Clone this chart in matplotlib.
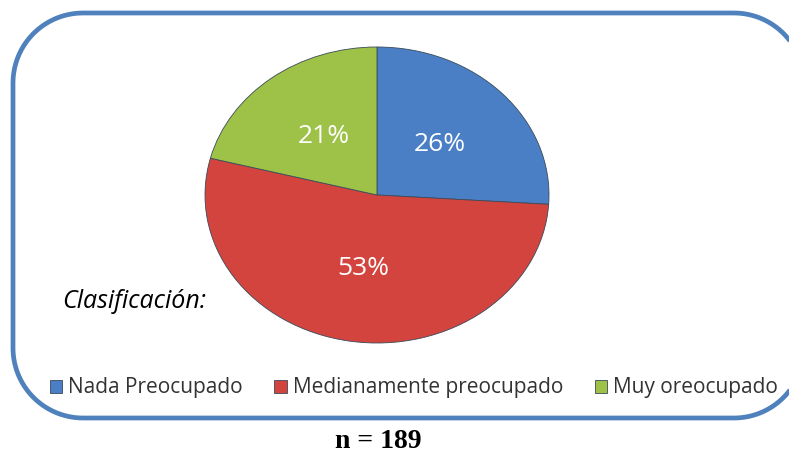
import numpy as np
import matplotlib.pyplot as plt
from matplotlib.path import Path
from matplotlib.patches import PathPatch

# data
categories = ["Nada Preocupado", "Medianamente preocupado", "Muy oreocupado"]
values = [26, 53, 21]
colors = ["#4A7FC6", "#D4443F", "#9DC247"]

fig = plt.figure(figsize=(7.89, 4.55), dpi=100)
fig.patch.set_facecolor("white")

# background layer in pixel coords for the rounded frame
bg = fig.add_axes([0, 0, 1, 1])
bg.set_xlim(0, 789)
bg.set_ylim(455, 0)
bg.axis("off")


def rounded_rect(x0, y0, x1, y1, r):
    pts = []
    corners = [(x1 - r, y0 + r, -90, 0), (x1 - r, y1 - r, 0, 90),
               (x0 + r, y1 - r, 90, 180), (x0 + r, y0 + r, 180, 270)]
    for ccx, ccy, a0, a1 in corners:
        a = np.radians(np.linspace(a0, a1, 30))
        pts += list(zip(ccx + r * np.cos(a), ccy + r * np.sin(a)))
    pts.append(pts[0])
    return Path(pts)


frame = PathPatch(rounded_rect(13, 13, 804, 418, 70), fill=False,
                  edgecolor="#4F81BD", linewidth=3.4, clip_on=False)
bg.add_patch(frame)

# pie (slightly elliptical)
cx, cy, rx, ry = 377, 195, 172, 148
ax = fig.add_axes([(cx - rx) / 789, (455 - cy - ry) / 455, 2 * rx / 789, 2 * ry / 455])
wedges, texts, autotexts = ax.pie(
    values, colors=colors, startangle=90, counterclock=False,
    autopct=lambda p: "%d%%" % round(p), pctdistance=0.5,
    wedgeprops=dict(edgecolor="#3a4a5a", linewidth=0.6),
    textprops=dict(color="white", fontsize=19, family="Open Sans"),
)
ax.set_xlim(-1, 1)
ax.set_ylim(-1, 1)
ax.set_aspect("auto")

fig.text(62 / 789, 1 - 302 / 455, "Clasificación:", fontsize=18, style="italic",
         family="Open Sans", ha="left", va="center")

leg = fig.legend(wedges, categories, loc="center", ncol=3,
                 bbox_to_anchor=(414 / 789, 1 - 388 / 455), frameon=False,
                 prop=dict(family="Open Sans", size=15), handlelength=0.6,
                 handleheight=0.6, handletextpad=0.3, columnspacing=1.5)
for t in leg.get_texts():
    t.set_color("#333333")

fig.text(378 / 789, 1 - 441 / 455, "n = 189", fontsize=20, fontweight="bold",
         family="Liberation Serif", ha="center", va="center")

fig.savefig("out.png", dpi=100)
